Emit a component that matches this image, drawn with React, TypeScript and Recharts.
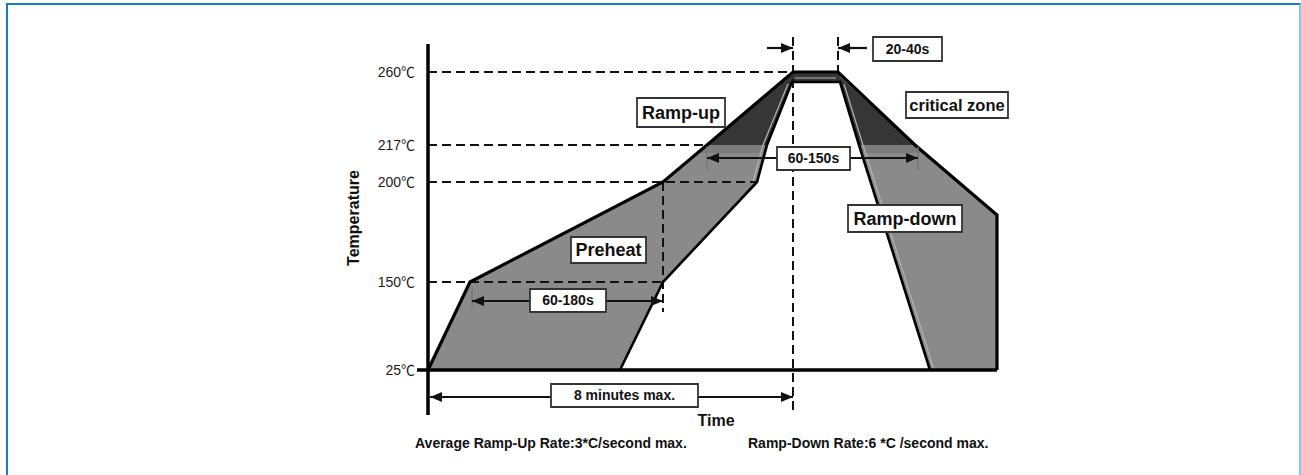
import React from 'react';
import { ComposedChart, XAxis, YAxis, Scatter, ReferenceLine, ReferenceArea } from 'recharts';

// ---- values (schematic units: x = time units, y = temperature level on the non-linear axis) ----
const tempLevels = [0, 88, 188, 225, 298];
const tempValues = ['25', '150', '200', '217', '260'];
const tempUnit = '℃';

const outerProfile = [
  { x: 0, y: 0 }, { x: 42, y: 88 }, { x: 235, y: 188 }, { x: 279, y: 225 },
  { x: 365, y: 298 }, { x: 410, y: 298 }, { x: 487, y: 225 }, { x: 569, y: 155 }, { x: 569, y: 0 },
];
const innerProfile = [
  { x: 192, y: 0 }, { x: 235, y: 88 }, { x: 329, y: 188 }, { x: 339, y: 225 },
  { x: 364, y: 288 }, { x: 412, y: 288 }, { x: 431, y: 225 }, { x: 502, y: 0 },
];
const criticalZone = [
  { x: 279, y: 225 }, { x: 365, y: 298 }, { x: 410, y: 298 }, { x: 487, y: 225 },
  { x: 431, y: 225 }, { x: 412, y: 288 }, { x: 364, y: 288 }, { x: 339, y: 225 },
];
const leftBand = [{ x: 279, y: 225 }, { x: 339, y: 225 }, { x: 337, y: 217 }, { x: 270, y: 217 }];
const rightBand = [{ x: 431, y: 225 }, { x: 487, y: 225 }, { x: 497, y: 217 }, { x: 434, y: 217 }];
const plateauMid = [{ x: 367, y: 292 }, { x: 408, y: 292 }];
const upHighlight = [{ x: 325, y: 188 }, { x: 335, y: 225 }, { x: 360, y: 286 }];
const downHighlight = [{ x: 416, y: 286 }, { x: 435, y: 225 }, { x: 506, y: 0 }];
const zoneHighlight = [{ x: 412, y: 294 }, { x: 484, y: 228 }];

const dashedGuides = [
  [{ x: 0, y: 298 }, { x: 365, y: 298 }],
  [{ x: 0, y: 225 }, { x: 279, y: 225 }],
  [{ x: 0, y: 188 }, { x: 329, y: 188 }],
  [{ x: 0, y: 88 }, { x: 235, y: 88 }],
  [{ x: 235, y: 188 }, { x: 235, y: 58 }],
  [{ x: 365, y: 333 }, { x: 365, y: -40 }],
  [{ x: 410, y: 333 }, { x: 410, y: 298 }],
];

const arrowSets = [
  { pts: [{ x: 339, y: 322 }, { x: 365, y: 322 }], both: false },
  { pts: [{ x: 439, y: 322 }, { x: 410, y: 322 }], both: false },
  { pts: [{ x: 279, y: 212 }, { x: 490, y: 212 }], both: true },
  { pts: [{ x: 44, y: 69 }, { x: 235, y: 69 }], both: true },
  { pts: [{ x: 2, y: -27 }, { x: 365, y: -27 }], both: true },
];

const endTicks = [
  [{ x: 279, y: 223 }, { x: 279, y: 199 }],
  [{ x: 490, y: 223 }, { x: 490, y: 199 }],
  [{ x: 44, y: 83 }, { x: 44, y: 62 }],
];

const boxLabels = ['Ramp-up', 'Preheat', 'critical zone', 'Ramp-down', '60-180s', '60-150s', '20-40s', '8 minutes max.'];
const boxX1 = [209, 143, 478, 420, 102, 349, 445, 123];
const boxX2 = [297, 218, 580, 534, 178, 422, 514, 270];
const boxY1 = [243, 107, 252, 138, 58, 200, 309, -37];
const boxY2 = [272, 133, 278, 165, 81, 223, 333, -14];

const captions = ['Average Ramp-Up Rate:3*C/second max.', 'Ramp-Down Rate:6 *C /second max.'];
const captionX = [-13, 320];

// ---- styles ----
const FONT = '"Liberation Sans", Arial, "Noto Sans CJK SC", sans-serif';
const CJK = '"Noto Sans CJK SC", "Noto Sans CJK JP", sans-serif';
const boxFont = [18, 18, 16.5, 18, 14, 14, 14, 14];

const polygon = (fill: string, stroke = 'none', sw = 0) => (p: any) => {
  const pts = (p && p.points) || [];
  if (!pts.length) return <g />;
  const d = pts.map((q: any, i: number) => `${i ? 'L' : 'M'}${q.x},${q.y}`).join(' ') + ' Z';
  return <path d={d} fill={fill} stroke={stroke} strokeWidth={sw} strokeLinejoin="miter" />;
};

const polyline = (stroke: string, sw: number) => (p: any) => {
  const pts = (p && p.points) || [];
  if (!pts.length) return <g />;
  const d = pts.map((q: any, i: number) => `${i ? 'L' : 'M'}${q.x},${q.y}`).join(' ');
  return <path d={d} fill="none" stroke={stroke} strokeWidth={sw} strokeLinejoin="miter" />;
};

const headPath = (tip: any, from: any) => {
  const dx = tip.x - from.x;
  const dy = tip.y - from.y;
  const len = Math.hypot(dx, dy) || 1;
  const ux = dx / len;
  const uy = dy / len;
  const L = 12;
  const W = 5;
  const bx = tip.x - ux * L;
  const by = tip.y - uy * L;
  return `M${tip.x},${tip.y} L${bx - uy * W},${by + ux * W} L${bx + uy * W},${by - ux * W} Z`;
};

const arrow = (both: boolean) => (p: any) => {
  const pts = (p && p.points) || [];
  if (pts.length < 2) return <g />;
  const [a, b] = pts;
  return (
    <g>
      <line x1={a.x} y1={a.y} x2={b.x} y2={b.y} stroke="#111" strokeWidth={2.2} />
      <path d={headPath(b, a)} fill="#111" />
      {both ? <path d={headPath(a, b)} fill="#111" /> : null}
    </g>
  );
};

const noDot = () => <g />;

const TempTick = (props: any) => {
  const { x, y, payload } = props;
  const idx = tempLevels.indexOf(payload.value);
  if (idx < 0) return <g />;
  return (
    <text x={x} y={y} dy={5} textAnchor="end" fill="#1a1a1a" fontSize={14} fontFamily={FONT}>
      <tspan>{tempValues[idx]}</tspan>
      <tspan fontFamily={CJK} fontSize={14}>{tempUnit}</tspan>
    </text>
  );
};

export default function App() {
  return (
    <div style={{ position: 'absolute', left: 0, top: 0, width: 1301, height: 475, background: '#fff', overflow: 'hidden' }}>
      <div
        style={{
          position: 'absolute', left: 6, top: 3, width: 1295, height: 500, boxSizing: 'border-box',
          borderTop: '2.5px solid #1c7bc2', borderLeft: '2.5px solid #1c7bc2', borderRight: '2px solid #8cc4ea',
        }}
      />
      <div style={{ position: 'absolute', left: 0, top: 0 }}>
        <ComposedChart width={1301} height={475} margin={{ top: 30, right: 283, bottom: 15, left: 348 }}>
          <XAxis type="number" dataKey="x" domain={[-20, 590]} hide allowDataOverflow />
          <YAxis
            type="number" dataKey="y" domain={[-90, 340]} allowDataOverflow width={60}
            ticks={tempLevels} interval={0}
            axisLine={false} tickLine={false} tickSize={0} tickMargin={-7}
            tick={<TempTick />}
          />

          <Scatter data={outerProfile} dataKey="y" shape={noDot} line={polygon('#8a8a8a')} isAnimationActive={false} zIndex={101} />
          <Scatter data={innerProfile} dataKey="y" shape={noDot} line={polygon('#ffffff')} isAnimationActive={false} zIndex={102} />
          <Scatter data={criticalZone} dataKey="y" shape={noDot} line={polygon('#363636')} isAnimationActive={false} zIndex={103} />
          <Scatter data={leftBand} dataKey="y" shape={noDot} line={polygon('#7c7c7c')} isAnimationActive={false} zIndex={103} />
          <Scatter data={rightBand} dataKey="y" shape={noDot} line={polygon('#7c7c7c')} isAnimationActive={false} zIndex={103} />
          <Scatter data={plateauMid} dataKey="y" shape={noDot} line={polyline('#8a8a8a', 1.5)} isAnimationActive={false} zIndex={104} />
          <Scatter data={upHighlight} dataKey="y" shape={noDot} line={polyline('#b4b4b4', 1.2)} isAnimationActive={false} zIndex={104} />
          <Scatter data={downHighlight} dataKey="y" shape={noDot} line={polyline('#b4b4b4', 1.2)} isAnimationActive={false} zIndex={104} />
          <Scatter data={zoneHighlight} dataKey="y" shape={noDot} line={polyline('#9a9a9a', 1.2)} isAnimationActive={false} zIndex={104} />

          {dashedGuides.map((seg, i) => (
            <ReferenceLine key={'d' + i} segment={seg} stroke="#111" strokeWidth={2} strokeDasharray="9 5" ifOverflow="visible" zIndex={105} />
          ))}

          <Scatter data={outerProfile} dataKey="y" shape={noDot} line={polyline('#000', 3.2)} isAnimationActive={false} zIndex={106} />
          <Scatter data={innerProfile} dataKey="y" shape={noDot} line={polyline('#000', 2.6)} isAnimationActive={false} zIndex={106} />

          <ReferenceLine segment={[{ x: 0, y: 326 }, { x: 0, y: -45 }]} stroke="#000" strokeWidth={3.5} ifOverflow="visible" zIndex={107} />
          <ReferenceLine segment={[{ x: -11, y: 0 }, { x: 569, y: 0 }]} stroke="#000" strokeWidth={3.5} ifOverflow="visible" zIndex={107} />

          {endTicks.map((seg, i) => (
            <ReferenceLine key={'t' + i} segment={seg} stroke="#777" strokeWidth={1.5} ifOverflow="visible" zIndex={108} />
          ))}
          {arrowSets.map((a, i) => (
            <Scatter key={'a' + i} data={a.pts} dataKey="y" shape={noDot} line={arrow(a.both)} isAnimationActive={false} zIndex={108} />
          ))}

          {boxLabels.map((lab, i) => (
            <ReferenceArea
              key={'b' + i} x1={boxX1[i]} x2={boxX2[i]} y1={boxY1[i]} y2={boxY2[i]}
              fill="#ffffff" fillOpacity={1} stroke="#333" strokeWidth={1.8} ifOverflow="visible" zIndex={109}
              label={{ value: lab, position: 'center', fill: '#111', fontSize: boxFont[i], fontWeight: 'bold', fontFamily: FONT }}
            />
          ))}

          <ReferenceArea
            x1={-85} x2={-65} y1={100} y2={204} fill="none" stroke="none" ifOverflow="visible" zIndex={110}
            label={{ value: 'Temperature', position: 'center', angle: -90, fill: '#111', fontSize: 16, fontWeight: 'bold', fontFamily: FONT }}
          />
          <ReferenceArea
            x1={268} x2={308} y1={-60} y2={-40} fill="none" stroke="none" ifOverflow="visible" zIndex={110}
            label={{ value: 'Time', position: 'center', fill: '#111', fontSize: 16, fontWeight: 'bold', fontFamily: FONT }}
          />
          {captions.map((c, i) => (
            <ReferenceArea
              key={'c' + i} x1={captionX[i]} x2={captionX[i] + 200} y1={-83} y2={-63} fill="none" stroke="none" ifOverflow="visible" zIndex={110}
              label={{ value: c, position: 'insideLeft', offset: 0, fill: '#111', fontSize: 14, fontWeight: 'bold', fontFamily: FONT }}
            />
          ))}
        </ComposedChart>
      </div>
    </div>
  );
}
